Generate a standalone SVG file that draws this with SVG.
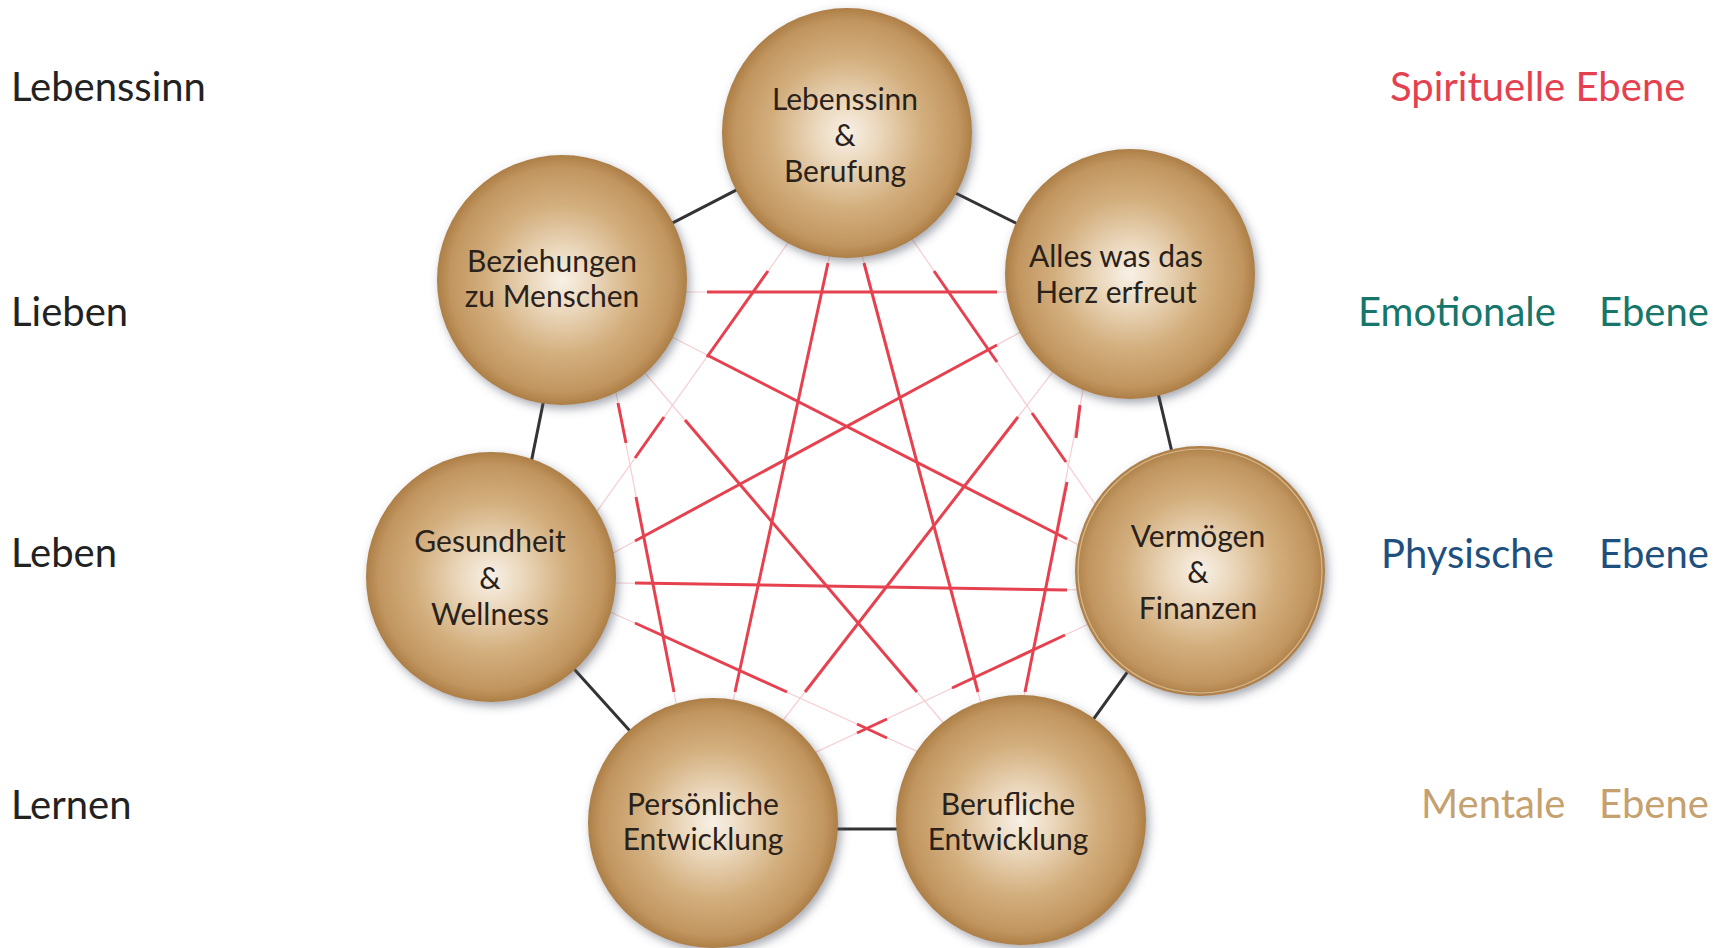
<svg xmlns="http://www.w3.org/2000/svg" width="1723" height="948" viewBox="0 0 1723 948">
  <defs>
    <radialGradient id="ball" cx="50%" cy="50%" r="50%">
      <stop offset="0" stop-color="#f8f1e7"/>
      <stop offset="0.25" stop-color="#ebd8bd"/>
      <stop offset="0.6" stop-color="#d3af7e"/>
      <stop offset="0.9" stop-color="#c1955f"/>
      <stop offset="1" stop-color="#ad7f47"/>
    </radialGradient>
    <filter id="shadow" x="-20%" y="-20%" width="140%" height="140%">
      <feDropShadow dx="3" dy="4" stdDeviation="5" flood-color="#4a5264" flood-opacity="0.5"/>
    </filter>
    <style>
      .ball { fill: url(#ball); filter: url(#shadow); }
      .t { font-family: Lato, "Liberation Sans", sans-serif; font-size: 30px; fill: #2a221a; text-anchor: middle; }
      .lbl { font-family: Lato, "Liberation Sans", sans-serif; font-size: 40px; fill: #222222; }
      .edge { stroke: #333333; stroke-width: 3; fill: none; }
      .faint { stroke: #f6cdd1; stroke-width: 1.2; fill: none; }
      .red { stroke: #e6414f; stroke-width: 3; fill: none; stroke-linecap: butt; }
    </style>
  </defs>
  <rect x="0" y="0" width="1723" height="948" fill="#ffffff"/>

  <g id="connectors">
    <g id="edges">
      <line class="edge" x1="847" y1="133" x2="562" y2="280"/>
      <line class="edge" x1="847" y1="139" x2="1130" y2="280"/>
      <line class="edge" x1="568" y1="280" x2="508" y2="577"/>
      <line class="edge" x1="1130" y1="274" x2="1200" y2="571"/>
      <line class="edge" x1="491" y1="577" x2="713" y2="823"/>
      <line class="edge" x1="1200" y1="571" x2="1021" y2="820"/>
      <line class="edge" x1="713" y1="829" x2="1021" y2="829"/>
    </g>
    <g id="faint-lines">
      <line class="faint" x1="617" y1="292" x2="1087" y2="292"/>
      <line class="faint" x1="545" y1="582" x2="1157" y2="591"/>
      <line class="faint" x1="627" y1="314" x2="1147" y2="580"/>
      <line class="faint" x1="556" y1="584" x2="1076" y2="302"/>
      <line class="faint" x1="583" y1="531" x2="820" y2="198"/>
      <line class="faint" x1="883" y1="197" x2="1117" y2="536"/>
      <line class="faint" x1="601" y1="315" x2="691" y2="780"/>
      <line class="faint" x1="1097" y1="317" x2="1008" y2="780"/>
      <line class="faint" x1="847" y1="175" x2="716" y2="780"/>
      <line class="faint" x1="841" y1="176" x2="1001" y2="779"/>
      <line class="faint" x1="750" y1="763" x2="1073" y2="346"/>
      <line class="faint" x1="627" y1="352" x2="975" y2="760"/>
      <line class="faint" x1="553" y1="586" x2="969" y2="775"/>
      <line class="faint" x1="776" y1="771" x2="1146" y2="597"/>
    </g>
    <g id="red-lines">
      <line class="red" x1="707" y1="292" x2="997" y2="292"/>
      <line class="red" x1="635" y1="583" x2="1067" y2="590"/>
      <line class="red" x1="707" y1="355" x2="1067" y2="539"/>
      <line class="red" x1="635" y1="541" x2="997" y2="345"/>
      <line class="red" x1="635" y1="458" x2="664" y2="417"/>
      <line class="red" x1="707" y1="357" x2="768" y2="271"/>
      <line class="red" x1="934" y1="271" x2="997" y2="362"/>
      <line class="red" x1="1032" y1="413" x2="1066" y2="462"/>
      <line class="red" x1="618" y1="403" x2="626" y2="443"/>
      <line class="red" x1="636" y1="497" x2="674" y2="692"/>
      <line class="red" x1="1080" y1="405" x2="1076" y2="438"/>
      <line class="red" x1="1067" y1="482" x2="1025" y2="692"/>
      <line class="red" x1="828" y1="263" x2="735" y2="692"/>
      <line class="red" x1="864" y1="263" x2="978" y2="692"/>
      <line class="red" x1="805" y1="692" x2="1018" y2="417"/>
      <line class="red" x1="685" y1="420" x2="917" y2="692"/>
      <line class="red" x1="635" y1="623" x2="787" y2="692"/>
      <line class="red" x1="857" y1="724" x2="887" y2="738"/>
      <line class="red" x1="952" y1="688" x2="1065" y2="635"/>
      <line class="red" x1="857" y1="733" x2="887" y2="719"/>
    </g>
  </g>

  <g id="node-lebenssinn">
    <circle class="ball" cx="847" cy="133" r="125"/>
    <text class="t" x="845" y="110">Lebenssinn</text>
    <text class="t" x="845" y="146">&amp;</text>
    <text class="t" x="845" y="182">Berufung</text>
  </g>
  <g id="node-beziehungen">
    <circle class="ball" cx="562" cy="280" r="125"/>
    <text class="t" x="552" y="272">Beziehungen</text>
    <text class="t" x="552" y="307">zu Menschen</text>
  </g>
  <g id="node-herz">
    <circle class="ball" cx="1130" cy="274" r="125"/>
    <text class="t" x="1116" y="267">Alles was das</text>
    <text class="t" x="1116" y="303">Herz erfreut</text>
  </g>
  <g id="node-gesundheit">
    <circle class="ball" cx="491" cy="577" r="125"/>
    <text class="t" x="490" y="552">Gesundheit</text>
    <text class="t" x="490" y="589">&amp;</text>
    <text class="t" x="490" y="625">Wellness</text>
  </g>
  <g id="node-vermoegen">
    <circle class="ball" cx="1200" cy="571" r="125"/>
    <circle cx="1200" cy="571" r="122" fill="none" stroke="#f3e2c7" stroke-width="1.2" opacity="0.55"/>
    <text class="t" x="1198" y="547">Vermögen</text>
    <text class="t" x="1198" y="583">&amp;</text>
    <text class="t" x="1198" y="619">Finanzen</text>
  </g>
  <g id="node-persoenlich">
    <circle class="ball" cx="713" cy="823" r="125"/>
    <text class="t" x="703" y="815">Persönliche</text>
    <text class="t" x="703" y="850">Entwicklung</text>
  </g>
  <g id="node-beruflich">
    <circle class="ball" cx="1021" cy="820" r="125"/>
    <text class="t" x="1008" y="815">Berufliche</text>
    <text class="t" x="1008" y="850">Entwicklung</text>
  </g>

  <g id="left-labels">
    <text class="lbl" x="11" y="101">Lebenssinn</text>
    <text class="lbl" x="11" y="326">Lieben</text>
    <text class="lbl" x="11" y="567">Leben</text>
    <text class="lbl" x="11" y="819">Lernen</text>
  </g>
  <g id="right-labels">
    <text class="lbl" x="1390" y="101" style="fill:#e5404f">Spirituelle Ebene</text>
    <text class="lbl" x="1358" y="326" style="fill:#16766a">Emotionale</text>
    <text class="lbl" x="1599" y="326" style="fill:#16766a">Ebene</text>
    <text class="lbl" x="1381" y="568" style="fill:#1e507f">Physische</text>
    <text class="lbl" x="1599" y="568" style="fill:#1e507f">Ebene</text>
    <text class="lbl" x="1421" y="818" style="fill:#c6a170">Mentale</text>
    <text class="lbl" x="1599" y="818" style="fill:#c6a170">Ebene</text>
  </g>
</svg>
